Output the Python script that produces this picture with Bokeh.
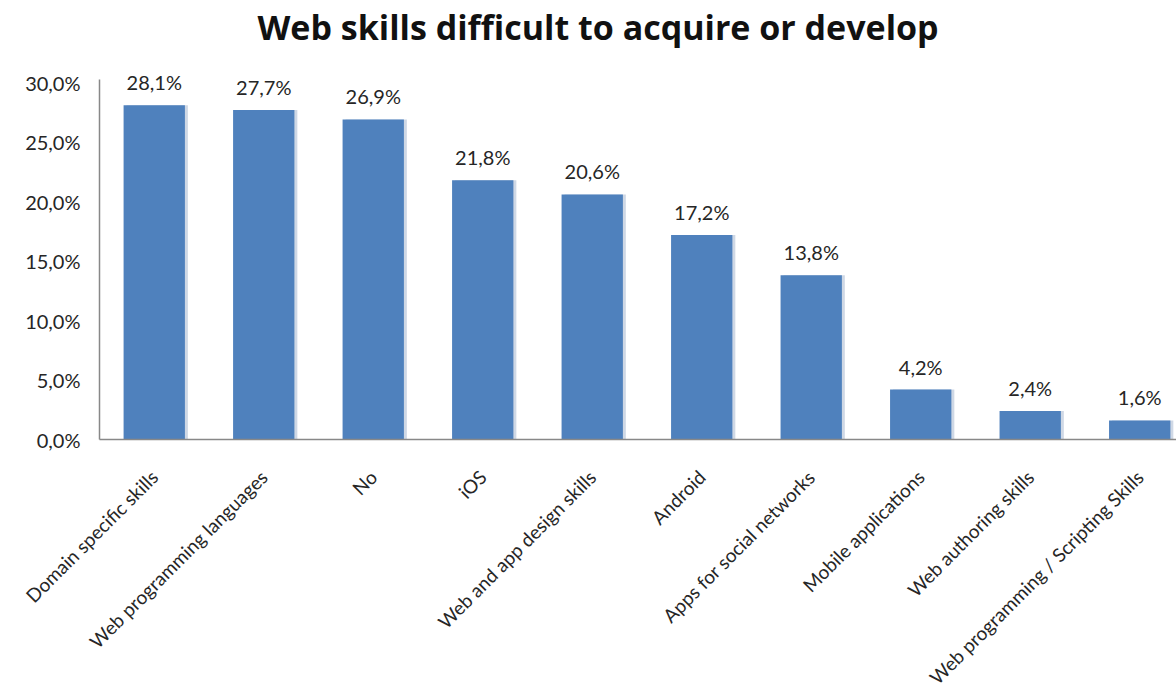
from bokeh.plotting import figure
from bokeh.models import Range1d, FixedTicker, ColumnDataSource, Title
from bokeh.core.properties import value
from bokeh.embed import file_html
from bokeh.resources import INLINE
import math

categories = ["Domain specific skills", "Web programming languages", "No", "iOS",
              "Web and app design skills", "Android", "Apps for social networks",
              "Mobile applications", "Web authoring skills",
              "Web programming / Scripting Skills"]
values = [28.1, 27.7, 26.9, 21.8, 20.6, 17.2, 13.8, 4.2, 2.4, 1.6]
value_labels = ["28,1%", "27,7%", "26,9%", "21,8%", "20,6%", "17,2%", "13,8%", "4,2%", "2,4%", "1,6%"]
y_ticks = [0, 5, 10, 15, 20, 25, 30]
y_tick_labels = ["0,0%", "5,0%", "10,0%", "15,0%", "20,0%", "25,0%", "30,0%"]
title_text = "Web skills difficult to acquire or develop"

FONT = "Lato"
TXT = "#262626"
BAR = "#4F81BD"

xs = [i + 0.5 for i in range(len(categories))]
src = ColumnDataSource(dict(x=xs, top=values, lab=value_labels,
                            xs=[x + 0.027 for x in xs]))

p = figure(width=1176, height=699, output_backend="svg", toolbar_location=None,
           x_range=Range1d(0, 9.836), y_range=Range1d(0, 32.7),
           min_border_left=99, min_border_right=0, min_border_top=20,
           min_border_bottom=259)
p.outline_line_color = None
p.grid.visible = False
p.background_fill_color = "white"
p.border_fill_color = "white"

p.vbar(x="xs", top="top", width=0.56, source=src, color="#cfd8e5", line_color=None)
p.vbar(x="x", top="top", width=0.56, source=src, color=BAR, line_color=None)

p.text(x="x", y="top", text="lab", source=src, text_align="center",
       text_baseline="alphabetic", y_offset=-23, text_font=value(FONT),
       text_font_size="20px", text_color=TXT)

p.xaxis.ticker = FixedTicker(ticks=xs)
p.xaxis.major_label_overrides = {x: c for x, c in zip(xs, categories)}
p.xaxis.major_label_orientation = math.pi / 4
p.xaxis.major_tick_line_color = None
p.xaxis.minor_tick_line_color = None
p.xaxis.major_label_standoff = 28
p.xaxis.axis_line_color = "#888888"
p.xaxis.axis_line_width = 1.5
p.xaxis.major_label_text_font_size = "19px"

p.yaxis.ticker = FixedTicker(ticks=y_ticks)
p.yaxis.major_label_overrides = {t: l for t, l in zip(y_ticks, y_tick_labels)}
p.yaxis.major_tick_line_color = None
p.yaxis.minor_tick_line_color = None
p.yaxis.major_label_standoff = 13
p.yaxis.axis_line_color = "#888888"
p.yaxis.axis_line_width = 1.5
p.yaxis.bounds = (0, 30.25)
p.yaxis.major_label_text_font_size = "20px"

for ax in (p.xaxis, p.yaxis):
    ax.major_label_text_font = FONT
    ax.major_label_text_color = TXT

title = Title(text=title_text, align="left", offset=158, text_font="Open Sans",
              text_font_size="34px", text_font_style="bold", text_color="#111111",
              vertical_align="bottom", standoff=2)
p.add_layout(title, "above")

open("out.html", "w").write(file_html(p, INLINE))
